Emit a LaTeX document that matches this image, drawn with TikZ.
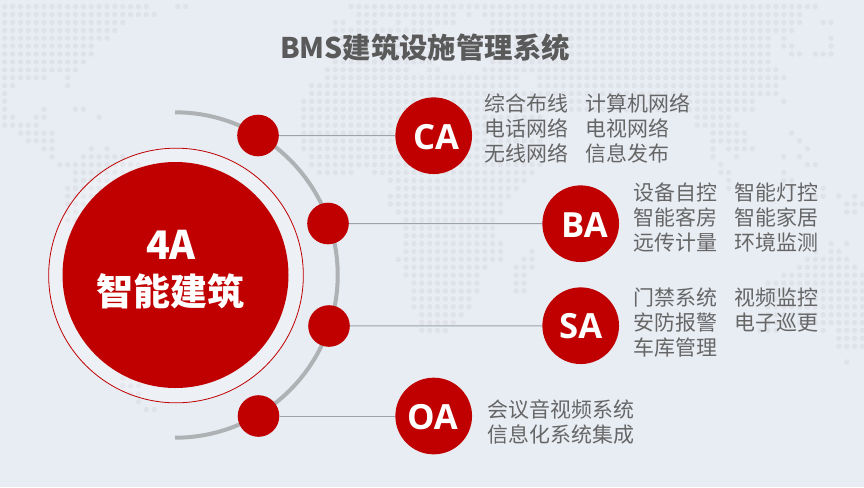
\documentclass[tikz,border=0pt]{standalone}
\usepackage{fontspec}
\setmainfont{Noto Sans CJK SC}
\newfontfamily\latinfont{Open Sans}
\definecolor{bgblue}{HTML}{E8ECF3}
\definecolor{dotgrey}{HTML}{DFE2E8}
\definecolor{bmsred}{HTML}{C00000}
\definecolor{arcgrey}{HTML}{AEB2B5}
\definecolor{linegrey}{HTML}{9AA3AB}
\definecolor{textgrey}{HTML}{666666}
\tikzset{
	bigdisc/.style={circle, fill=bmsred, inner sep=0pt, minimum size=57.5},
	knob/.style={circle, fill=bmsred, inner sep=0pt, minimum size=31.2},
	tagtext/.style={text=white, font=\latinfont\bfseries\fontsize{26}{26}\selectfont},
	itemtext/.style={anchor=west, inner sep=0pt, align=left, text=textgrey, font=\fontsize{15.7}{18.75}\selectfont},
	feeder/.style={draw=linegrey, line width=0.75},
}
\begin{document}
\begin{tikzpicture}[x=0.75pt, y=-0.75pt]
	\useasboundingbox (0, 0) rectangle (864, 487);
	\fill [bgblue] (0, 0) rectangle (864, 487);

	% Kartan: rad/forsta/sista
	\foreach \r/\a/\b in {0/0/18, 0/22/23, 0/44/103, 1/0/19, 1/45/57, 1/59/59, 1/61/101,
		2/0/15, 2/42/43, 2/45/47, 2/50/50, 2/52/57, 2/62/101, 2/104/105,
		3/0/14, 3/42/54, 3/62/100, 4/0/13, 4/42/54, 4/62/97, 4/99/99, 4/105/105,
		5/0/11, 5/42/54, 5/62/97, 5/99/100, 5/105/105, 6/0/11, 6/42/54, 6/62/97, 6/100/101, 6/103/105,
		7/0/10, 7/42/54, 7/62/97, 8/0/9, 8/41/51, 8/54/55, 8/61/98,
		9/0/5, 9/8/8, 9/41/65, 9/68/99, 10/0/1, 10/8/8, 10/39/65, 10/68/98,
		11/0/0, 11/39/98, 12/0/0, 12/38/95, 12/99/99, 13/0/0, 13/5/5, 13/9/10, 13/38/95,
		14/0/1, 14/4/5, 14/12/12, 14/38/68, 14/88/92, 15/0/4, 15/38/68, 15/88/93,
		16/2/6, 16/38/68, 16/90/94, 16/100/100, 17/3/6, 17/38/68, 17/90/94, 17/101/101,
		18/5/6, 18/11/11, 18/13/13, 18/38/68, 18/90/90, 18/92/95, 18/102/102,
		19/6/6, 19/10/15, 19/39/68, 19/90/90, 19/93/93, 19/99/99, 19/101/101,
		20/7/17, 20/39/68, 20/91/91, 20/102/103, 21/9/17, 21/40/44, 21/47/67, 21/91/92, 21/99/99,
		22/9/17, 22/49/66, 22/92/92, 22/99/100, 23/8/15, 23/50/65, 23/92/92, 23/100/100, 23/104/104,
		24/8/15, 24/49/64, 24/103/104, 24/106/106, 24/108/108, 25/8/15, 25/49/63, 25/107/109,
		26/8/15, 26/50/63, 26/107/108, 27/8/15, 27/51/62, 28/51/62, 29/51/62, 30/51/63, 30/105/105, 30/107/107,
		31/51/63, 31/67/67, 31/103/103, 31/105/106, 32/50/63, 32/66/67, 32/102/107,
		33/51/61, 33/65/67, 33/101/108, 34/51/60, 34/65/66, 34/99/109,
		35/52/60, 35/65/66, 35/97/109, 36/52/60, 36/65/66, 36/97/109, 37/52/59, 37/97/109,
		38/52/59, 38/97/109, 39/53/58, 39/97/109, 40/53/57, 40/97/109,
		41/53/56, 41/96/98, 41/104/104, 41/106/109, 42/106/109, 43/106/109, 45/107/107,
		47/15/17, 48/15/17, 49/16/17, 50/17/17, 51/18/19}
		\foreach \c in {\a, ..., \b}
			\fill [dotgrey] ({4.7 + 7.87*\c}, {6.6 + 7.9*\r}) circle [radius=2.7];

	\draw [arcgrey, line width=3] (175, 112.3) arc [radius=162.7, start angle=-90, end angle=90]; % Bagen

	\node (rubrik) [text=textgrey!88!black, font=\bfseries\fontsize{21.3}{21.3}\selectfont] at (425, 47.5) {BMS建筑设施管理系统};

	\node (halo) [circle, draw=bmsred, line width=0.6, fill=white, fill opacity=0.22, inner sep=0pt, minimum size=191] at (176, 275.5) {};
	\node (hub) [circle, fill=bmsred, inner sep=0pt, minimum size=169.5] at (175.5, 275) {};
	\node (hubtop) [text=white, font=\bfseries\fontsize{29.5}{29.5}\selectfont] at (171, 245) {4A};
	\node (hubtext) [text=white, font=\bfseries\fontsize{27.7}{27.7}\selectfont] at (170.5, 291) {智能建筑};

	\node (knobca) [knob] at (258, 135.5) {};
	\node (knobba) [knob] at (328, 223.5) {};
	\node (knobsa) [knob] at (329, 326) {};
	\node (knoboa) [knob] at (258.5, 416) {};

	\node (ca) [bigdisc] at (433.7, 135.7) {};
	\node (ba) [bigdisc] at (580.7, 223.7) {};
	\node (sa) [bigdisc] at (580.7, 325.7) {};
	\node (oa) [bigdisc] at (433.7, 416) {};
	\node (catag) [tagtext] at (436, 137) {CA};
	\node (batag) [tagtext] at (584.5, 225) {BA};
	\node (satag) [tagtext] at (580.7, 326) {SA};
	\node (oatag) [tagtext] at (432.5, 417) {OA};

	\draw [feeder] (knobca) -- (ca);
	\draw [feeder] (knobba) -- (ba);
	\draw [feeder] (knobsa) -- (sa);
	\draw [feeder] (knoboa) -- (oa);

	\node (caleft) [itemtext] at (484.5, 128.3) {综合布线\\电话网络\\无线网络};
	\node (caright) [itemtext] at (585, 128.3) {计算机网络\\电视网络\\信息发布};
	\node (baleft) [itemtext] at (633.3, 217.7) {设备自控\\智能客房\\远传计量};
	\node (baright) [itemtext] at (734, 217.7) {智能灯控\\智能家居\\环境监测};
	\node (saleft) [itemtext] at (633.3, 322.7) {门禁系统\\安防报警\\车库管理};
	\node (saright) [itemtext] at (734, 310) {视频监控\\电子巡更};
	\node (oatext) [itemtext] at (487.3, 421.7) {会议音视频系统\\信息化系统集成};
\end{tikzpicture}
\end{document}
